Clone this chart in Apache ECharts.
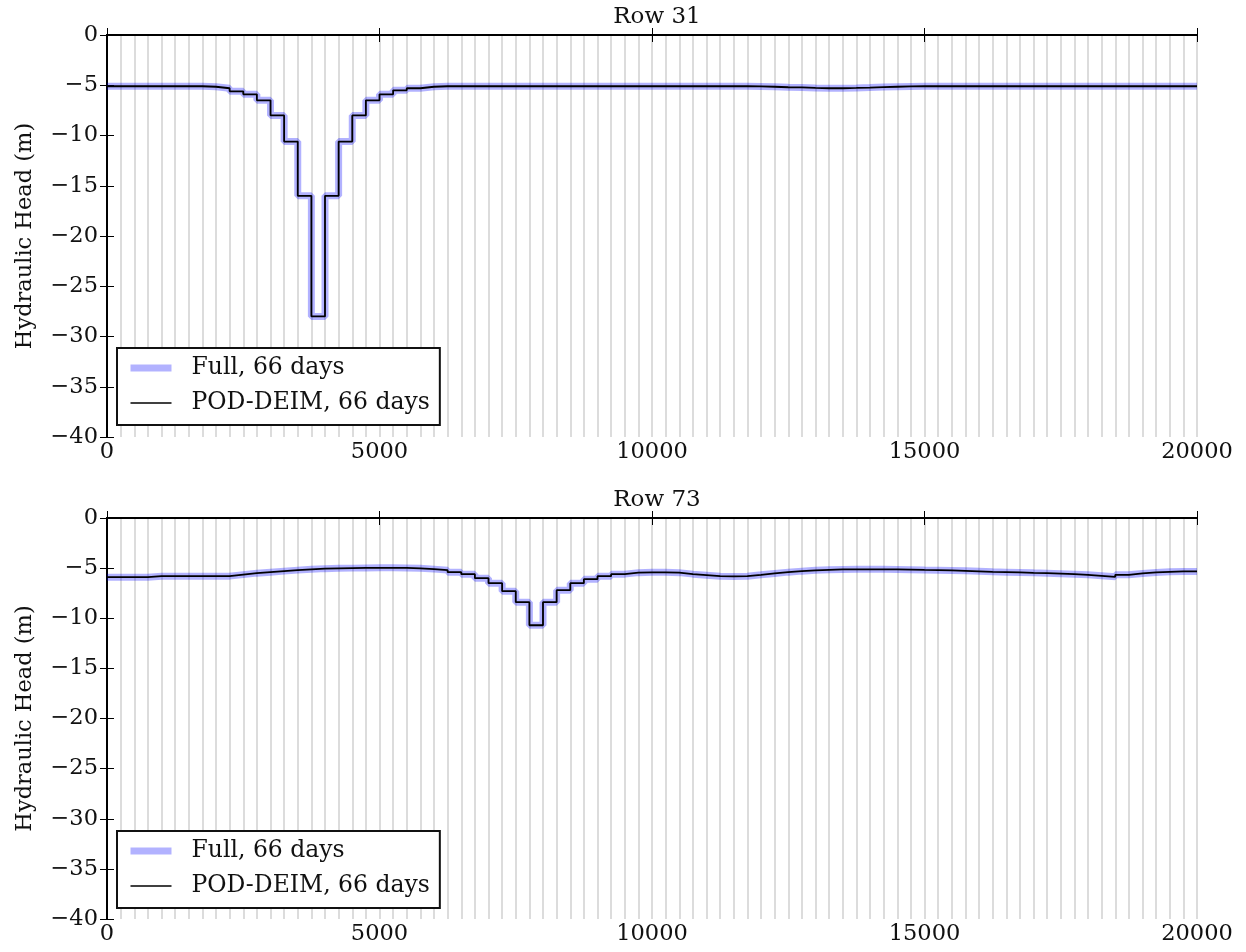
<!DOCTYPE html>
<html>
<head>
<meta charset="utf-8">
<script src="https://cdn.jsdelivr.net/npm/echarts/dist/echarts.min.js"></script>
<style>
  html, body { margin: 0; padding: 0; background: #fff; }
  #main { width: 1246px; height: 952px; }
</style>
</head>
<body>
<div id="main"></div>
<script>
// cell width along the row (m), 80 cells from 0 to 20000
var cellSize = 250;
var xTicks = [0, 5000, 10000, 15000, 20000];
var yTicks = [0, -5, -10, -15, -20, -25, -30, -35, -40];
var seriesNames = ['Full, 66 days', 'POD-DEIM, 66 days'];
var panelTitles = ['Row 31', 'Row 73'];

// hydraulic head per cell, full model and POD-DEIM coincide at this scale
var row31 = [
  -5.1, -5.1, -5.1, -5.1, -5.1, -5.1, -5.1, -5.15,
  -5.3, -5.6, -5.9, -6.5, -8.0, -10.6, -16.0, -28.0,
  -16.0, -10.6, -8.0, -6.5, -5.9, -5.5, -5.3, -5.15,
  -5.1, -5.1, -5.1, -5.1, -5.1, -5.1, -5.1, -5.1,
  -5.1, -5.1, -5.1, -5.1, -5.1, -5.1, -5.1, -5.1,
  -5.1, -5.1, -5.1, -5.1, -5.1, -5.1, -5.1, -5.12,
  -5.15, -5.2, -5.22, -5.27, -5.3, -5.3, -5.27, -5.23,
  -5.18, -5.15, -5.12, -5.1, -5.1, -5.1, -5.1, -5.1,
  -5.1, -5.1, -5.1, -5.1, -5.1, -5.1, -5.1, -5.1,
  -5.1, -5.1, -5.1, -5.1, -5.1, -5.1, -5.1, -5.1
];
var row73 = [
  -5.9, -5.9, -5.9, -5.8, -5.8, -5.8, -5.8, -5.8,
  -5.8, -5.65, -5.5, -5.4, -5.3, -5.2, -5.12, -5.05,
  -5.02, -5.0, -4.98, -4.97, -4.97, -4.98, -5.02, -5.1,
  -5.2, -5.4, -5.6, -6.0, -6.5, -7.3, -8.4, -10.7,
  -8.4, -7.2, -6.5, -6.1, -5.8, -5.6, -5.45, -5.42,
  -5.42, -5.45, -5.6, -5.7, -5.8, -5.83, -5.8, -5.67,
  -5.53, -5.4, -5.3, -5.22, -5.17, -5.13, -5.12, -5.12,
  -5.12, -5.13, -5.15, -5.18, -5.2, -5.23, -5.27, -5.32,
  -5.37, -5.4, -5.43, -5.47, -5.5, -5.55, -5.6, -5.67,
  -5.77, -5.87, -5.67, -5.53, -5.43, -5.37, -5.33, -5.33
];

var font = 'DejaVu Serif';
var grids = [
  { left: 107, top: 35, width: 1090, height: 402 },
  { left: 107, top: 518, width: 1090, height: 401 }
];

function steps(values) {
  var pts = values.map(function (v, i) { return [i * cellSize, v]; });
  pts.push([values.length * cellSize, values[values.length - 1]]);
  return pts;
}

function plain(v) { return String(v).replace('-', '\u2212'); }

var xMin = xTicks[0], xMax = xTicks[xTicks.length - 1];
var yMin = yTicks[yTicks.length - 1], yMax = yTicks[0];
var xAxes = [], yAxes = [], series = [], titles = [], legends = [];
[row31, row73].forEach(function (vals, g) {
  var base = {
    gridIndex: g, type: 'value',
    axisLine: { show: true, lineStyle: { color: '#000', width: 2 } },
    axisTick: { show: true, inside: true, length: 7, lineStyle: { color: '#000', width: 1 } },
    splitLine: { show: false }
  };
  // cell boundaries, one grey line per cell
  xAxes.push({
    gridIndex: g, type: 'value', min: xMin, max: xMax, interval: cellSize, position: 'bottom',
    axisLine: { show: false }, axisTick: { show: false }, axisLabel: { show: false },
    splitLine: { show: true, lineStyle: { color: '#d0d0d0', width: 1.5 } }, z: 0
  });
  xAxes.push(Object.assign({}, base, {
    min: xMin, max: xMax, interval: xTicks[1] - xTicks[0], position: 'bottom',
    axisLabel: { margin: 4, color: '#111', fontFamily: font, fontSize: 22.5, formatter: plain }
  }));
  xAxes.push(Object.assign({}, base, {
    min: xMin, max: xMax, interval: xTicks[1] - xTicks[0], position: 'top',
    axisLabel: { show: false }
  }));
  yAxes.push(Object.assign({}, base, {
    min: yMin, max: yMax, interval: yTicks[0] - yTicks[1], position: 'left',
    name: 'Hydraulic Head (m)', nameLocation: 'middle', nameGap: 70,
    nameTextStyle: { color: '#111', fontFamily: font, fontSize: 22.5 },
    axisLabel: { margin: 9, color: '#111', fontFamily: font, fontSize: 22.5, formatter: plain }
  }));
  yAxes.push(Object.assign({}, base, {
    min: yMin, max: yMax, interval: yTicks[0] - yTicks[1], position: 'right',
    axisLabel: { show: false }
  }));
  var data = steps(vals);
  series.push({
    name: seriesNames[0], type: 'line', step: 'end', xAxisIndex: g * 3 + 1, yAxisIndex: g * 2,
    data: data, showSymbol: false, symbol: 'none', z: 3,
    lineStyle: { color: 'rgba(0,0,255,0.3)', width: 7 }, itemStyle: { color: 'rgba(0,0,255,0.3)' }
  });
  series.push({
    name: seriesNames[1], type: 'line', step: 'end', xAxisIndex: g * 3 + 1, yAxisIndex: g * 2,
    data: data, showSymbol: false, symbol: 'none', z: 4,
    lineStyle: { color: '#000', width: 1.8 }, itemStyle: { color: '#000' }
  });
  titles.push({
    text: panelTitles[g], left: 652, textAlign: 'center', top: grids[g].top - 34,
    textStyle: { fontFamily: font, fontSize: 23, fontWeight: 'normal', color: '#111' }
  });
  legends.push({
    left: 117, top: grids[g].top + 313, orient: 'vertical',
    backgroundColor: '#fff', borderColor: '#111', borderWidth: 2,
    padding: [7, 10, 9, 10], itemGap: 9, itemWidth: 41, itemHeight: 14,
    textStyle: { fontFamily: font, fontSize: 23.5, color: '#111', lineHeight: 26, padding: [0, 0, 0, 15] },
    data: [
      { name: seriesNames[0], itemStyle: { opacity: 0 }, lineStyle: { width: 7, color: 'rgba(0,0,255,0.3)' } },
      { name: seriesNames[1], itemStyle: { opacity: 0 }, lineStyle: { width: 1.5, color: '#000' } }
    ],
    selectedMode: false
  });
});

var chart = echarts.init(document.getElementById('main'));
chart.setOption({
  animation: false,
  backgroundColor: '#fff',
  title: titles,
  legend: legends,
  grid: grids,
  xAxis: xAxes,
  yAxis: yAxes,
  series: series
});
</script>
</body>
</html>
